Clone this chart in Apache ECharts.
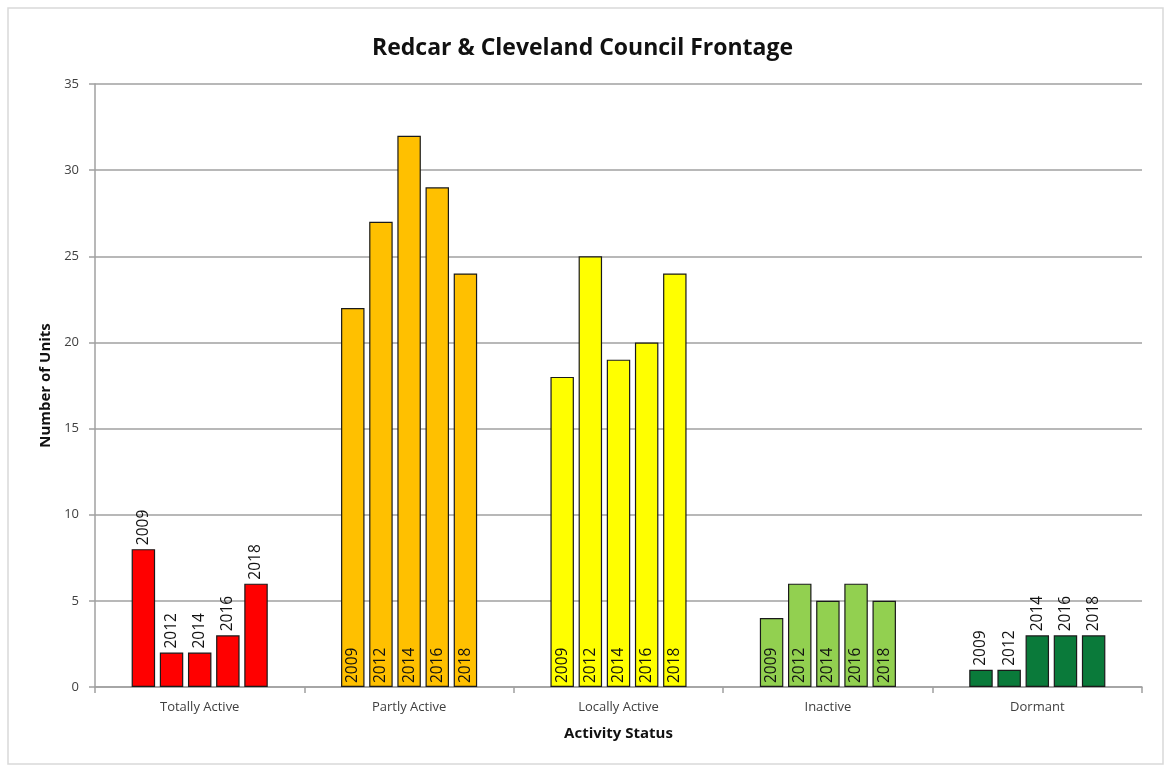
<!DOCTYPE html>
<html lang="en">
<head>
    <meta charset="UTF-8">
    <title>Redcar & Cleveland Council Frontage</title>
    <script src="https://cdn.jsdelivr.net/npm/echarts@6/dist/echarts.min.js"></script>
    <style>
        html, body { margin: 0; padding: 0; background: #fff; }
        #main { width: 1165px; height: 767px; }
    </style>
</head>
<body>
<div id="main"></div>
<script>
    var categories = ['Totally Active', 'Partly Active', 'Locally Active', 'Inactive', 'Dormant'];
    var years = ['2009', '2012', '2014', '2016', '2018'];
    var v2009 = [8, 22, 18, 4, 1];
    var v2012 = [2, 27, 25, 6, 1];
    var v2014 = [2, 32, 19, 5, 3];
    var v2016 = [3, 29, 20, 6, 3];
    var v2018 = [6, 24, 24, 5, 3];
    var values = [v2009, v2012, v2014, v2016, v2018];
    var catColors = ['#ff0000', '#ffc000', '#ffff00', '#92d050', '#0a7a3a'];
    // label goes above the bar for the short groups, inside at the bottom for the tall ones
    var labelPos = ['top', 'insideBottom', 'insideBottom', 'insideBottom', 'top'];

    var series = [];
    for (var s = 0; s < years.length; s++) {
        var items = [];
        for (var i = 0; i < categories.length; i++) {
            items.push({
                value: values[s][i],
                itemStyle: { color: catColors[i] },
                label: { position: labelPos[i], distance: labelPos[i] == 'top' ? 4 : 4 }
            });
        }
        series.push({
            name: years[s],
            type: 'bar',
            barGap: '20%',
            barCategoryGap: '35%',
            itemStyle: { borderColor: '#1a1a1a', borderWidth: 1.2 },
            label: {
                show: true,
                rotate: 90,
                align: 'left',
                verticalAlign: 'middle',
                formatter: years[s],
                fontFamily: 'Open Sans',
                fontSize: 15.5,
                color: '#111'
            },
            data: items
        });
    }

    var myChart = echarts.init(document.getElementById('main'));
    var option = {
        backgroundColor: '#fff',
        animation: false,
        title: {
            text: 'Redcar & Cleveland Council Frontage',
            left: 'center',
            top: 32,
            textStyle: { fontFamily: 'Open Sans', fontWeight: 'bold', fontSize: 23, color: '#111' }
        },
        graphic: [{
            type: 'rect',
            shape: { x: 8, y: 8, width: 1155, height: 756 },
            style: { fill: 'none', stroke: '#d9d9d9', lineWidth: 1.5 },
            silent: true
        }],
        grid: { left: 95, right: 23, top: 84, bottom: 80 },
        xAxis: {
            type: 'category',
            data: categories,
            name: 'Activity Status',
            nameLocation: 'middle',
            nameGap: 39,
            nameTextStyle: { fontFamily: 'Open Sans', fontWeight: 'bold', fontSize: 15, color: '#111' },
            axisLine: { lineStyle: { color: '#a0a0a0', width: 1.5 } },
            axisTick: { show: true, length: 6, lineStyle: { color: '#a0a0a0', width: 1.5 } },
            axisLabel: { fontFamily: 'Open Sans', fontSize: 13, color: '#404040', margin: 14 }
        },
        yAxis: {
            type: 'value',
            min: 0,
            max: 35,
            interval: 5,
            name: 'Number of Units',
            nameLocation: 'middle',
            nameGap: 33,
            nameTextStyle: { fontFamily: 'Open Sans', fontWeight: 'bold', fontSize: 15, color: '#111' },
            axisLine: { show: true, lineStyle: { color: '#a0a0a0', width: 1.5 } },
            axisTick: { show: true, length: 6, lineStyle: { color: '#a0a0a0', width: 1.5 } },
            axisLabel: { fontFamily: 'Open Sans', fontSize: 13, color: '#404040', margin: 16 },
            splitLine: { lineStyle: { color: '#a0a0a0', width: 1.5 } }
        },
        series: series
    };
    myChart.setOption(option);
</script>
</body>
</html>
